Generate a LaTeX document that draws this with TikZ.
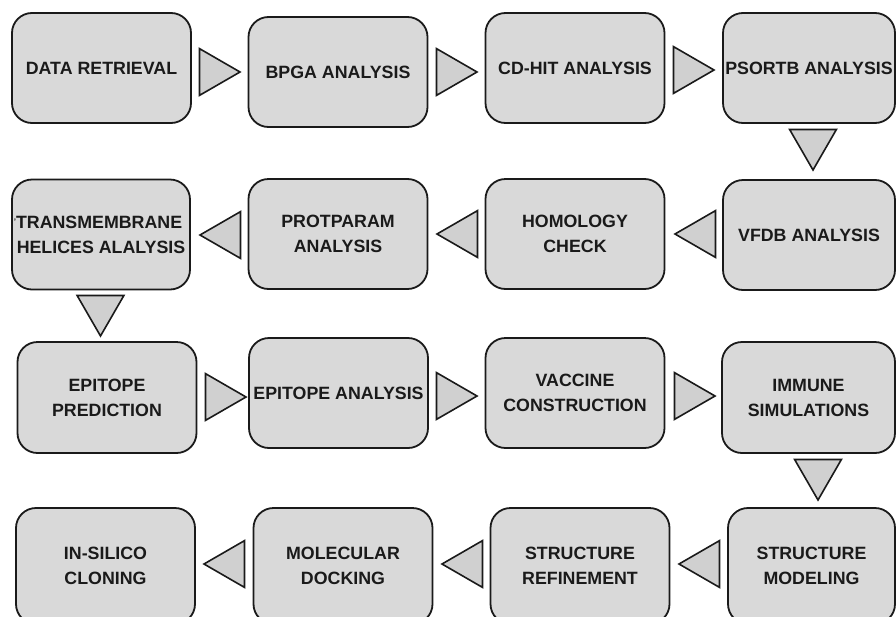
\documentclass[tikz,border=0pt]{standalone}
\usepackage{fontspec}
\setmainfont{Liberation Sans}
\usetikzlibrary{shapes.geometric}
\definecolor{boxfill}{HTML}{D9D9D9}
\definecolor{trifill}{HTML}{D0D0D0}
\definecolor{edge}{HTML}{1A1A1A}
\tikzset{
  stagebox/.style={draw=edge, fill=boxfill, line width=1.8pt, rounded corners=20pt,
    minimum width=179pt, minimum height=110pt, inner sep=0pt, align=center,
    text=edge, font=\fontsize{17.8}{25}\selectfont\bfseries},
  tri/.style={draw=edge, fill=trifill, line width=1.6pt, regular polygon,
    regular polygon sides=3, minimum size=54pt, inner sep=0pt, outer sep=0pt},
  tright/.style={tri, shape border rotate=-90},
  tleft/.style={tri, shape border rotate=90},
  tdown/.style={tri, shape border rotate=180}
}
\begin{document}
\begin{tikzpicture}[x=1pt,y=-1pt]
\path[use as bounding box, fill=white] (0,0) rectangle (896,616);
\clip (0,0) rectangle (896,616);
% row 1
\node[stagebox] (b1) at (101.5,68) {DATA RETRIEVAL};
\node[stagebox] (b2) at (338,72) {BPGA ANALYSIS};
\node[stagebox] (b3) at (575,68) {CD-HIT ANALYSIS};
\node[stagebox, minimum width=172pt] (b4) at (809,68) {PSORTB ANALYSIS};
% row 2
\node[stagebox, minimum width=172pt] (b5) at (809,235) {VFDB ANALYSIS};
\node[stagebox] (b6) at (575,234) {HOMOLOGY\\CHECK};
\node[stagebox] (b7) at (338,234) {PROTPARAM\\ANALYSIS};
\node[stagebox, minimum width=178pt] (b8) at (101,234.5) {\hspace*{-6pt}{\fontsize{8}{8}\selectfont\raisebox{4pt}{'}}TRANSMEMBRANE\\HELICES ALALYSIS};
% row 3
\node[stagebox, minimum height=111pt] (b9) at (107,397.5) {EPITOPE\\PREDICTION};
\node[stagebox] (b10) at (338.5,393) {EPITOPE ANALYSIS};
\node[stagebox] (b11) at (575,393) {VACCINE\\CONSTRUCTION};
\node[stagebox, minimum width=173pt, minimum height=111pt] (b12) at (808.5,397.5) {IMMUNE\\SIMULATIONS};
% row 4
\node[stagebox, minimum width=167pt, minimum height=116pt] (b13) at (811.5,566) {STRUCTURE\\MODELING};
\node[stagebox, minimum height=116pt] (b14) at (580,566) {STRUCTURE\\REFINEMENT};
\node[stagebox, minimum height=116pt] (b15) at (343,566) {MOLECULAR\\DOCKING};
\node[stagebox, minimum height=116pt] (b16) at (105.5,566) {IN-SILICO\\CLONING};
% triangles
\node[tright] (t1) at (213,72) {};
\node[tright] (t2) at (450,72) {};
\node[tright] (t3) at (687,70) {};
\node[tdown] (t4) at (813,143) {};
\node[tleft] (t5) at (702,234) {};
\node[tleft] (t6) at (464,234) {};
\node[tleft] (t7) at (227,235) {};
\node[tdown] (t8) at (100.5,309) {};
\node[tright] (t9) at (219,397) {};
\node[tright] (t10) at (450,396) {};
\node[tright] (t11) at (688,396) {};
\node[tdown] (t12) at (818,473) {};
\node[tleft] (t13) at (706,564) {};
\node[tleft] (t14) at (469,564) {};
\node[tleft] (t15) at (231,564) {};
\end{tikzpicture}
\end{document}
